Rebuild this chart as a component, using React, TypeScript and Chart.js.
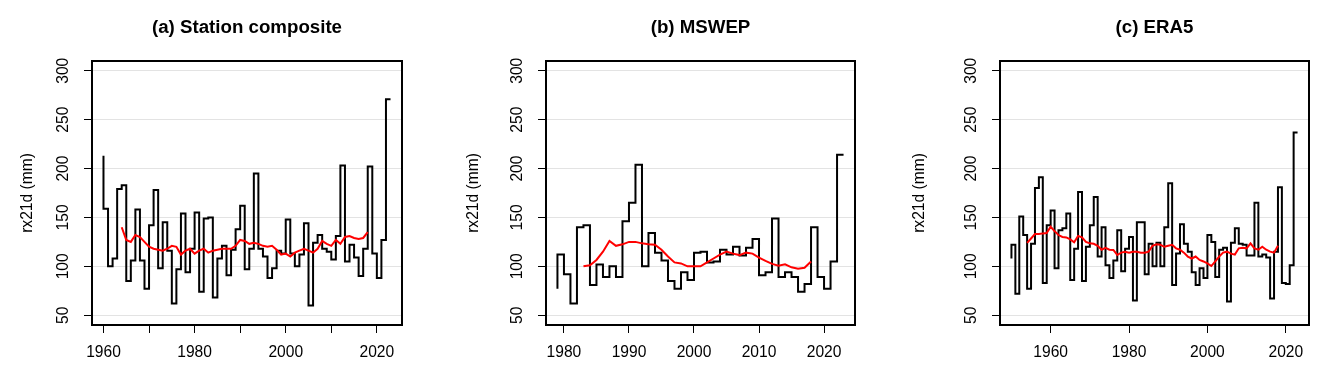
import React, { useEffect, useRef } from "react";
import { Chart, registerables } from "chart.js";

Chart.register(...registerables);

// ---------- shared axis values ----------
const yTickValues = [50, 100, 150, 200, 250, 300];
const yLabel = "rx21d (mm)";

// ---------- (a) Station composite ----------
const stationTitle = "(a) Station composite";
const stationStartYear = 1960;
const stationValues = [
  213, 159, 100, 108, 179, 183, 85, 106, 158, 106,
  77, 142, 178, 98, 145, 116, 62, 97, 154, 94,
  118, 155, 74, 149, 150, 68, 108, 121, 91, 117,
  138, 162, 97, 118, 195, 118, 110, 88, 98, 116,
  113, 148, 113, 100, 112, 144, 60, 124, 132, 118,
  115, 107, 131, 203, 105, 122, 109, 90, 118, 202,
  113, 88, 127, 271,
];
const stationSmoothStartYear = 1964;
const stationSmooth = [
  140, 127, 125, 132, 130, 125,
  120, 118, 117, 116, 118, 121, 120, 112, 116, 118,
  113, 116, 118, 114, 116, 117, 118, 118, 118, 121,
  127, 126, 123, 124, 123, 121, 120, 121, 117, 112,
  113, 110, 114, 116, 118, 116, 114, 118, 126, 123,
  121, 127, 123, 130, 131, 129, 128, 129, 135,
];
const stationXTicks = [1960, 1970, 1980, 1990, 2000, 2010, 2020];
const stationXLabels = ["1960", "", "1980", "", "2000", "", "2020"];

// ---------- (b) MSWEP ----------
const mswepTitle = "(b) MSWEP";
const mswepStartYear = 1979;
const mswepValues = [
  77,
  112, 92, 62, 140, 142, 81, 102, 89, 100, 89,
  146, 165, 204, 100, 134, 114, 106, 85, 77, 94,
  86, 114, 115, 104, 105, 117, 112, 120, 111, 119,
  128, 91, 94, 149, 89, 94, 89, 74, 82, 140,
  89, 77, 105, 214,
];
const mswepSmoothStartYear = 1983;
const mswepSmooth = [
  100, 101, 106.5, 115, 126, 121, 122.5,
  125, 125, 123.5, 122.5, 122, 117, 110, 104, 103, 100,
  100, 100, 104, 108, 112, 115, 113, 111.5, 114, 113,
  109, 105.5, 102.5, 100.7, 102, 99, 97.6, 98.6, 105,
];
const mswepXTicks = [1980, 1990, 2000, 2010, 2020];
const mswepXLabels = ["1980", "1990", "2000", "2010", "2020"];

// ---------- (c) ERA5 ----------
const era5Title = "(c) ERA5";
const era5StartYear = 1950;
const era5Values = [
  108, 122, 72, 151, 132, 77, 123, 180, 191, 83,
  142, 157, 98, 137, 139, 154, 86, 118, 176, 85,
  120, 142, 171, 110, 140, 101, 88, 106, 137, 95,
  118, 130, 65, 145, 145, 92, 123, 100, 124, 100,
  140, 185, 81, 113, 143, 123, 115, 94, 81, 98,
  88, 132, 125, 89, 117, 119, 64, 124, 139, 123,
  122, 111, 111, 165, 110, 112, 109, 67, 115, 181,
  83, 82, 101, 237,
];
const era5SmoothStartYear = 1954;
const era5Smooth = [
  124, 128.5, 133, 133, 133.7, 134,
  140.5, 136, 132, 130, 129.6, 127.5, 124.5, 131, 129.6, 125,
  123.5, 123, 121, 117, 119, 117, 116.7, 111.6, 114, 115,
  114, 115, 115, 114, 114, 115, 121, 122.5, 122, 120,
  121, 122, 118.4, 117, 114, 110, 108, 110, 106.5, 105,
  103, 100.3, 105, 110, 114, 115, 113, 112, 118.4, 119,
  118.4, 123.5, 118.4, 117, 120, 117, 115, 114, 121,
];
const era5XTicks = [1960, 1980, 2000, 2020];
const era5XLabels = ["1960", "1980", "2000", "2020"];

// ---------- layout (pixels) ----------
const FONT = '"Liberation Sans", Arial, Helvetica, sans-serif';
const CANVAS_W = 446;
const CANVAS_H = 379;
const BOX_TOP = 61;
const BOX_BOTTOM = 325;

type Panel = {
  title: string;
  start: number;
  values: number[];
  smoothStart: number;
  smooth: number[];
  xTicks: number[];
  xLabels: string[];
  xMin: number;
  xMax: number;
  canvasLeft: number;
  boxLeft: number;
  boxRight: number;
};

const panels: Panel[] = [
  {
    title: stationTitle, start: stationStartYear, values: stationValues,
    smoothStart: stationSmoothStartYear, smooth: stationSmooth,
    xTicks: stationXTicks, xLabels: stationXLabels,
    xMin: 1957.48, xMax: 2025.52, canvasLeft: 0, boxLeft: 92, boxRight: 402,
  },
  {
    title: mswepTitle, start: mswepStartYear, values: mswepValues,
    smoothStart: mswepSmoothStartYear, smooth: mswepSmooth,
    xTicks: mswepXTicks, xLabels: mswepXLabels,
    xMin: 1977.24, xMax: 2024.76, canvasLeft: 446, boxLeft: 100, boxRight: 409,
  },
  {
    title: era5Title, start: era5StartYear, values: era5Values,
    smoothStart: era5SmoothStartYear, smooth: era5Smooth,
    xTicks: era5XTicks, xLabels: era5XLabels,
    xMin: 1947.08, xMax: 2025.92, canvasLeft: 892, boxLeft: 108, boxRight: 417,
  },
];

const frameAndYLabels = {
  id: "frameAndYLabels",
  afterDraw(chart: any) {
    const { ctx, chartArea: a } = chart;
    const ys = chart.scales.y;
    ctx.save();
    ctx.strokeStyle = "#000";
    ctx.lineWidth = 2;
    ctx.strokeRect(a.left, a.top, a.right - a.left, a.bottom - a.top);
    ctx.fillStyle = "#000";
    ctx.font = `15.6px ${FONT}`;
    ctx.textAlign = "center";
    ctx.textBaseline = "middle";
    for (const v of yTickValues) {
      const py = ys.getPixelForValue(v);
      ctx.save();
      ctx.translate(a.left - 28.5, py);
      ctx.rotate(-Math.PI / 2);
      ctx.fillText(String(v), 0, 0);
      ctx.restore();
    }
    ctx.restore();
  },
};

function PanelChart({ p }: { p: Panel }) {
  const ref = useRef<HTMLCanvasElement | null>(null);
  useEffect(() => {
    if (!ref.current) return;
    const chart = new Chart(ref.current, {
      type: "line",
      data: {
        datasets: [
          {
            label: "smooth",
            data: p.smooth.map((v, i) => ({ x: p.smoothStart + i, y: v })),
            borderColor: "#ff0000",
            borderWidth: 2,
            pointRadius: 0,
            fill: false,
            tension: 0,
            order: 0,
          },
          {
            label: "rx21d",
            data: p.values.map((v, i) => ({ x: p.start + i, y: v })),
            borderColor: "#000000",
            borderWidth: 2,
            pointRadius: 0,
            fill: false,
            stepped: "after",
            order: 1,
          },
        ],
      },
      options: {
        animation: false,
        responsive: false,
        devicePixelRatio: 1,
        layout: { padding: { top: 0, left: 0, bottom: 0, right: CANVAS_W - p.boxRight } },
        plugins: {
          legend: { display: false },
          tooltip: { enabled: false },
          title: {
            display: true,
            fullSize: false,
            text: p.title,
            color: "#000",
            font: { family: FONT, size: 18.7, weight: "bold", lineHeight: 1.2 },
            padding: { top: 17, bottom: BOX_TOP - 17 - 18.7 * 1.2 },
          },
        },
        scales: {
          x: {
            type: "linear",
            min: p.xMin,
            max: p.xMax,
            afterBuildTicks: (s: any) => {
              s.ticks = p.xTicks.map((v) => ({ value: v }));
            },
            afterFit: (s: any) => {
              s.height = CANVAS_H - BOX_BOTTOM;
            },
            ticks: {
              autoSkip: false,
              minRotation: 0,
              maxRotation: 0,
              padding: 10.6,
              color: "#000",
              font: { family: FONT, size: 15.6 },
              callback: (v: any) => {
                const i = p.xTicks.indexOf(Number(v));
                return i >= 0 ? p.xLabels[i] : "";
              },
            },
            grid: { drawOnChartArea: false, tickColor: "#000", tickLength: 8, tickWidth: 1 },
            border: { display: false },
          },
          y: {
            type: "linear",
            min: 40,
            max: 310,
            afterBuildTicks: (s: any) => {
              s.ticks = yTickValues.map((v) => ({ value: v }));
            },
            afterFit: (s: any) => {
              s.width = p.boxLeft;
            },
            ticks: { display: false },
            grid: { color: "#e3e3e3", lineWidth: 1, tickColor: "#000", tickLength: 8, tickWidth: 1 },
            border: { display: false },
            title: {
              display: true,
              text: yLabel,
              color: "#000",
              font: { family: FONT, size: 15.6, lineHeight: 1.2 },
              padding: { top: 18, bottom: 0 },
            },
          },
        },
      },
      plugins: [frameAndYLabels],
    } as any);
    return () => chart.destroy();
  }, [p]);
  return (
    <canvas
      ref={ref}
      width={CANVAS_W}
      height={CANVAS_H}
      style={{ position: "absolute", left: p.canvasLeft, top: 0, width: CANVAS_W, height: CANVAS_H }}
    />
  );
}

export default function App() {
  return (
    <div style={{ position: "absolute", left: 0, top: 0, width: 1338, height: 379, background: "#fff" }}>
      {panels.map((p) => (
        <PanelChart key={p.title} p={p} />
      ))}
    </div>
  );
}
